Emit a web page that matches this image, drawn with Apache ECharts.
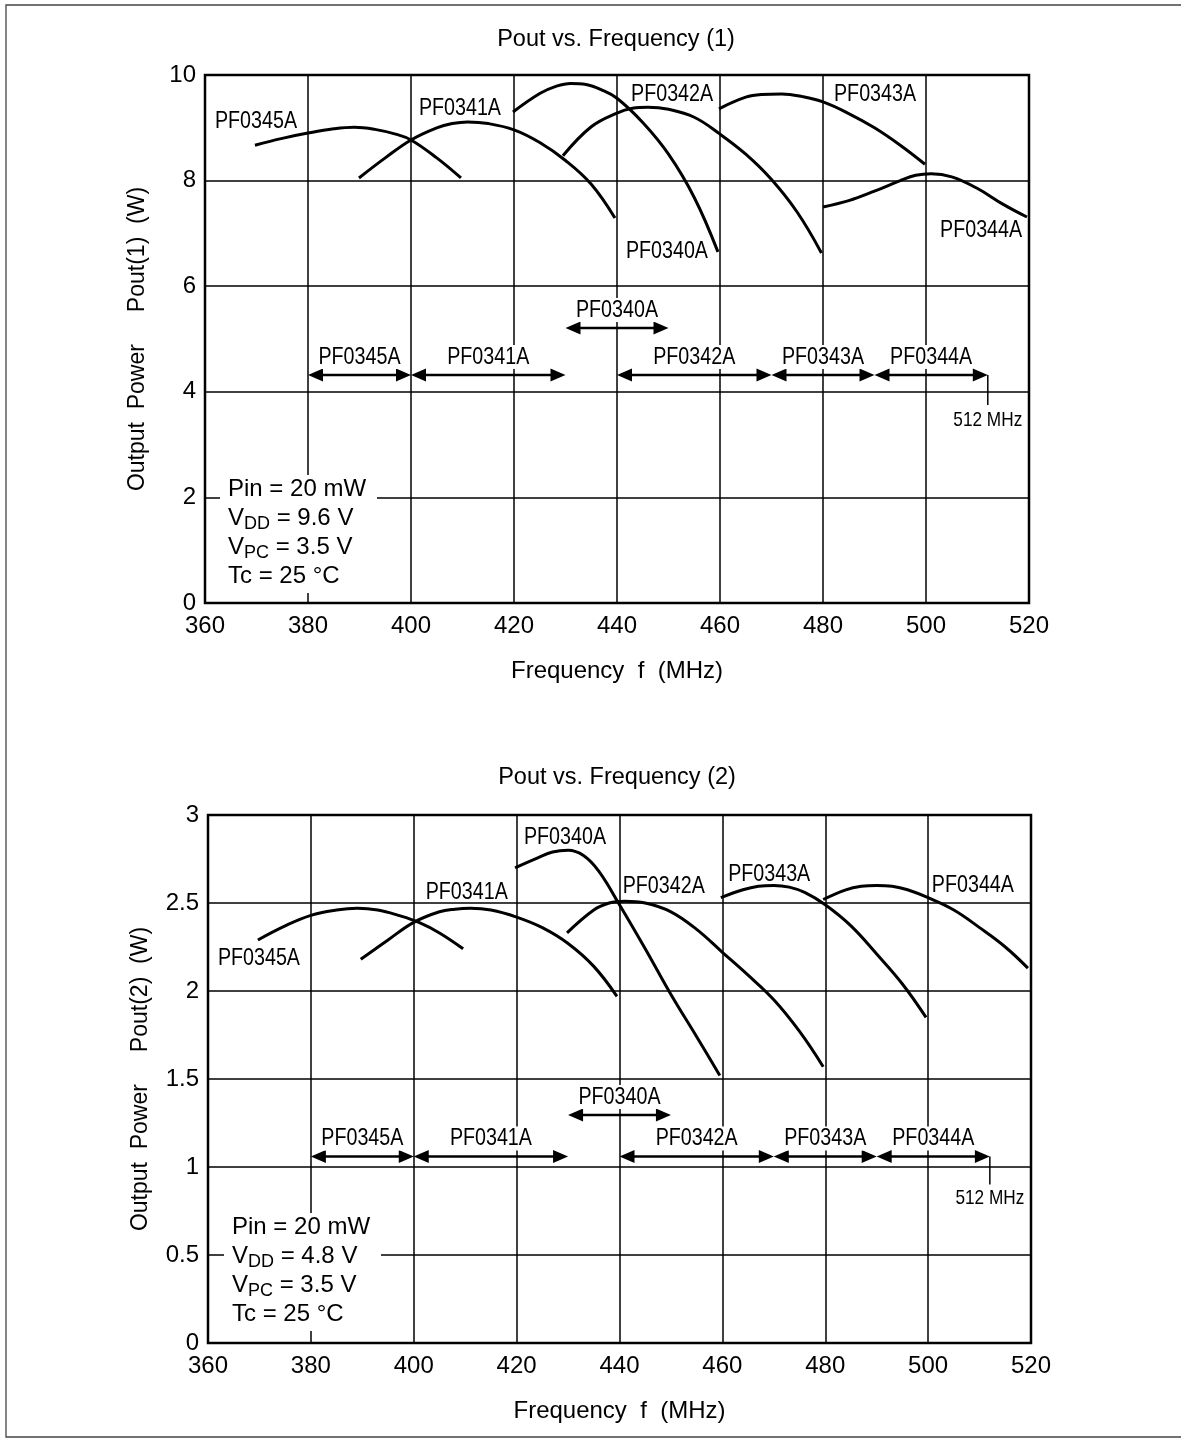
<!DOCTYPE html>
<html><head><meta charset="utf-8">
<script src="https://cdn.jsdelivr.net/npm/echarts@6/dist/echarts.min.js"></script>
<style>html,body{margin:0;padding:0;background:#fff}#c{width:1181px;height:1439px}</style>
</head><body><div id="c"></div>
<script>
// ---------- DATA ----------
const curveNames = ['PF0345A', 'PF0341A', 'PF0340A', 'PF0342A', 'PF0343A', 'PF0344A'];

// Chart (1): VDD = 9.6 V, Pout(1) in W
const pout1_PF0345A = [[369.7,8.67],[375,8.80],[380,8.90],[385,8.98],[389,9.01],[393,8.97],[397,8.88],[400,8.77],[405,8.43],[409.7,8.05]];
const pout1_PF0341A = [[389.9,8.05],[395,8.43],[400,8.77],[405,9.00],[408,9.08],[411,9.11],[415,9.08],[420,8.96],[425,8.72],[430,8.38],[435,7.93],[439.6,7.29]];
const pout1_PF0340A = [[419.8,9.30],[425,9.65],[428,9.78],[431,9.84],[434,9.82],[437,9.72],[440,9.56],[445,9.10],[450,8.50],[455,7.68],[459.6,6.65]];
const pout1_PF0342A = [[429.5,8.47],[435,9.02],[440,9.28],[443,9.37],[446,9.39],[450,9.35],[455,9.20],[460,8.88],[465,8.50],[470,8.02],[475,7.40],[479.7,6.63]];
const pout1_PF0343A = [[459.8,9.36],[465,9.58],[468,9.63],[472,9.64],[476,9.59],[480,9.49],[485,9.27],[490,9.00],[495,8.67],[499.8,8.31]];
const pout1_PF0344A = [[480,7.50],[485,7.62],[490,7.80],[495,8.00],[498,8.10],[501,8.13],[505,8.07],[510,7.85],[515,7.55],[519.6,7.31]];

// Chart (2): VDD = 4.8 V, Pout(2) in W
const pout2_PF0345A = [[369.7,2.29],[375,2.37],[380,2.43],[385,2.46],[389,2.47],[393,2.46],[397,2.43],[401,2.39],[405,2.33],[409.6,2.24]];
const pout2_PF0341A = [[389.7,2.18],[395,2.29],[400,2.39],[405,2.45],[408,2.465],[411,2.47],[415,2.46],[420,2.42],[425,2.36],[430,2.27],[435,2.14],[439.5,1.97]];
const pout2_PF0340A = [[419.7,2.70],[424,2.755],[427,2.79],[430,2.80],[433,2.77],[436,2.68],[440,2.49],[445,2.24],[450,1.98],[455,1.74],[459.5,1.52]];
const pout2_PF0342A = [[429.8,2.33],[435,2.46],[438,2.50],[441,2.51],[445,2.50],[450,2.45],[455,2.35],[460,2.22],[465,2.09],[470,1.95],[475,1.77],[479.6,1.57]];
const pout2_PF0343A = [[459.7,2.53],[464,2.575],[467,2.595],[470,2.60],[473,2.59],[476,2.56],[480,2.49],[485,2.37],[490,2.21],[495,2.04],[499.6,1.85]];
const pout2_PF0344A = [[479.6,2.52],[484,2.575],[487,2.595],[490,2.60],[493,2.595],[496,2.575],[500,2.53],[505,2.46],[510,2.36],[515,2.25],[519.4,2.13]];

// Curve label positions [freq, power]
const labelPos1 = [[369.9,9.13],[409.5,9.37],[449.7,6.66],[450.7,9.63],[490.1,9.63],[510.7,7.06]];
const labelPos2 = [[369.9,2.185],[410.3,2.56],[429.4,2.872],[448.6,2.594],[469.1,2.662],[508.7,2.602]];

// Frequency bands (MHz)
const bandNames = ['PF0345A','PF0341A','PF0340A','PF0342A','PF0343A','PF0344A'];
const bandStart = [380, 400, 430, 440, 470, 490];
const bandEnd   = [400, 430, 450, 470, 490, 512];
const bandLevel1 = [4.32, 4.32, 5.21, 4.32, 4.32, 4.32];
const bandLevel2 = [1.06, 1.06, 1.295, 1.06, 1.06, 1.06];
const endMark1 = [512, 4.32, 3.75, 3.47]; // freq, from, to, label level
const endMark2 = [512, 1.06, 0.90, 0.824];
const endMarkText = '512 MHz';

const freqMin = 360, freqMax = 520, freqStep = 20;
const p1Max = 10, p1Step = 2;
const p2Max = 3, p2Step = 0.5;

// ---------- RENDER ----------
const FONT = "'Liberation Sans', Arial, Helvetica, sans-serif";
const NARROW = 0.82;
const chart = echarts.init(document.getElementById('c'), null, {renderer: 'canvas'});

function labelItem(names, size) {
  return function (params, api) {
    const p = api.coord([api.value(0), api.value(1)]);
    return {type: 'text', x: p[0], y: p[1], scaleX: NARROW,
      style: {text: names[params.dataIndex], font: size + 'px ' + FONT, fill: '#000', align: 'center', verticalAlign: 'middle'}};
  };
}
function bandItem(names) {
  return function (params, api) {
    const a = api.coord([api.value(0), api.value(2)]);
    const b = api.coord([api.value(1), api.value(2)]);
    const L = 15, W = 6.5, y = a[1];
    return {type: 'group', children: [
      {type: 'line', shape: {x1: a[0] + L - 2, y1: y, x2: b[0] - L + 2, y2: y}, style: {stroke: '#000', lineWidth: 2.5}},
      {type: 'polygon', shape: {points: [[a[0], y], [a[0] + L, y - W], [a[0] + L, y + W]]}, style: {fill: '#000'}},
      {type: 'polygon', shape: {points: [[b[0], y], [b[0] - L, y - W], [b[0] - L, y + W]]}, style: {fill: '#000'}},
      {type: 'text', x: (a[0] + b[0]) / 2, y: y - 18, scaleX: NARROW,
        style: {text: names[params.dataIndex], font: '24px ' + FONT, fill: '#000', align: 'center', verticalAlign: 'middle', backgroundColor: '#fff'}}
    ]};
  };
}
function endItem(params, api) {
  const a = api.coord([api.value(0), api.value(1)]);
  const b = api.coord([api.value(0), api.value(2)]);
  const t = api.coord([api.value(0), api.value(3)]);
  return {type: 'group', children: [
    {type: 'line', shape: {x1: a[0], y1: a[1], x2: b[0], y2: b[1]}, style: {stroke: '#000', lineWidth: 1.5}},
    {type: 'text', x: t[0], y: t[1], scaleX: NARROW,
      style: {text: endMarkText, font: '21px ' + FONT, fill: '#000', align: 'center', verticalAlign: 'middle'}}
  ]};
}

const curves1 = [pout1_PF0345A, pout1_PF0341A, pout1_PF0340A, pout1_PF0342A, pout1_PF0343A, pout1_PF0344A];
const curves2 = [pout2_PF0345A, pout2_PF0341A, pout2_PF0340A, pout2_PF0342A, pout2_PF0343A, pout2_PF0344A];

const series = [];
[curves1, curves2].forEach((set, gi) => {
  set.forEach((d, i) => series.push({
    type: 'line', name: curveNames[i] + '_' + (gi + 1), xAxisIndex: gi, yAxisIndex: gi, data: d,
    smooth: 0.4, showSymbol: false, symbol: 'none', lineStyle: {color: '#000', width: 3}, z: 3, silent: true
  }));
});
series.push({type: 'custom', xAxisIndex: 0, yAxisIndex: 0, data: labelPos1, renderItem: labelItem(curveNames, 24), z: 5, clip: false, silent: true});
series.push({type: 'custom', xAxisIndex: 1, yAxisIndex: 1, data: labelPos2, renderItem: labelItem(curveNames, 24), z: 5, clip: false, silent: true});
series.push({type: 'custom', xAxisIndex: 0, yAxisIndex: 0, data: bandStart.map((s, i) => [s, bandEnd[i], bandLevel1[i]]), renderItem: bandItem(bandNames), z: 5, clip: false, silent: true});
series.push({type: 'custom', xAxisIndex: 1, yAxisIndex: 1, data: bandStart.map((s, i) => [s, bandEnd[i], bandLevel2[i]]), renderItem: bandItem(bandNames), z: 5, clip: false, silent: true});
series.push({type: 'custom', xAxisIndex: 0, yAxisIndex: 0, data: [endMark1], renderItem: endItem, z: 5, clip: false, silent: true});
series.push({type: 'custom', xAxisIndex: 1, yAxisIndex: 1, data: [endMark2], renderItem: endItem, z: 5, clip: false, silent: true});

function xAxis(gi) {
  return {type: 'value', gridIndex: gi, min: freqMin, max: freqMax, interval: freqStep,
    name: 'Frequency  f  (MHz)', nameLocation: 'middle', nameGap: 56,
    nameTextStyle: {fontFamily: FONT, fontSize: 24, color: '#000'},
    axisLine: {show: false}, axisTick: {show: false},
    axisLabel: {fontFamily: FONT, fontSize: 24, color: '#000', margin: 11},
    splitLine: {show: true, lineStyle: {color: '#000', width: 1.5}}};
}
function yAxis(gi, max, step, name) {
  return {type: 'value', gridIndex: gi, min: 0, max: max, interval: step,
    name: name, nameLocation: 'middle', nameGap: 56, nameRotate: 90,
    nameTextStyle: {fontFamily: FONT, fontSize: 23, color: '#000'},
    axisLine: {show: false}, axisTick: {show: false},
    axisLabel: {fontFamily: FONT, fontSize: 24, color: '#000', margin: 9},
    splitLine: {show: true, lineStyle: {color: '#000', width: 1.5}}};
}

function condBlock(x, y, vdd) {
  return {type: 'group', z: 100, children: [
    {type: 'rect', z: 100, shape: {x: x - 8, y: y, width: 157, height: 118}, style: {fill: '#fff'}},
    {type: 'text', z: 101, x: x, y: y, style: {
      text: '{n|Pin = 20 mW}\n{n|V}{s|DD}{n| = ' + vdd + ' V}\n{n|V}{s|PC}{n| = 3.5 V}\n{n|Tc = 25 °C}',
      font: '24px ' + FONT, fill: '#000',
      rich: {n: {fontFamily: FONT, fontSize: 24, lineHeight: 29, color: '#000'},
             s: {fontFamily: FONT, fontSize: 18, lineHeight: 18, verticalAlign: 'bottom', color: '#000'}}}}
  ]};
}

chart.setOption({
  animation: false,
  backgroundColor: '#fff',
  title: [
    {text: 'Pout vs. Frequency (1)', left: 616, top: 28, textAlign: 'center', padding: 0,
      textStyle: {fontFamily: FONT, fontSize: 23.5, fontWeight: 'normal', color: '#000'}},
    {text: 'Pout vs. Frequency (2)', left: 617, top: 766, textAlign: 'center', padding: 0,
      textStyle: {fontFamily: FONT, fontSize: 23.5, fontWeight: 'normal', color: '#000'}}
  ],
  grid: [
    {left: 205, top: 75, width: 824, height: 528, show: true, borderColor: '#000', borderWidth: 2.5, backgroundColor: 'transparent'},
    {left: 208, top: 815, width: 823, height: 528, show: true, borderColor: '#000', borderWidth: 2.5, backgroundColor: 'transparent'}
  ],
  xAxis: [xAxis(0), xAxis(1)],
  yAxis: [yAxis(0, p1Max, p1Step, 'Output  Power     Pout(1)  (W)'), yAxis(1, p2Max, p2Step, 'Output  Power     Pout(2)  (W)')],
  series: series,
  graphic: [
    {type: 'polyline', z: 1, shape: {points: [[1181, 5], [6, 5], [6, 1437], [1181, 1437]]}, style: {stroke: '#444', lineWidth: 1.3, fill: null}},
    condBlock(228, 475, '9.6'),
    condBlock(232, 1213, '4.8')
  ]
});
</script></body></html>
